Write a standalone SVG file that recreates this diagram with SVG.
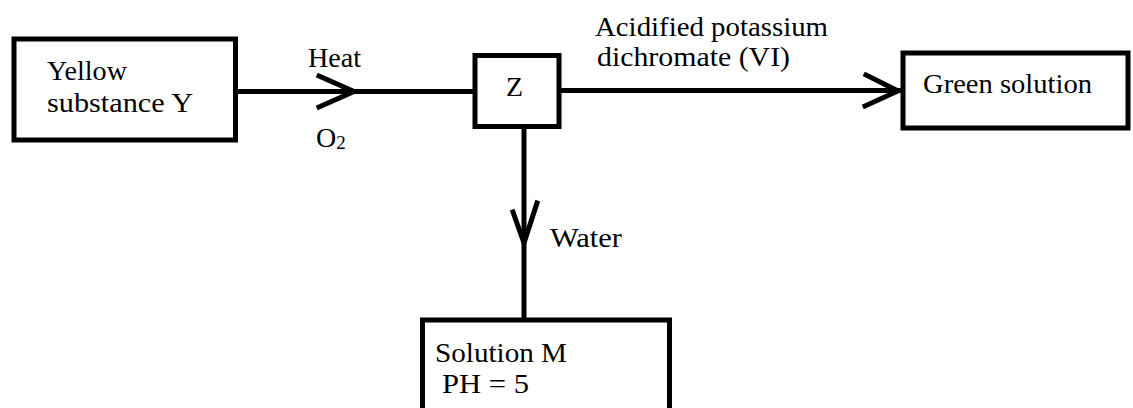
<svg xmlns="http://www.w3.org/2000/svg" width="1133" height="408" viewBox="0 0 1133 408">
<style>
.box{fill:#fff;stroke:#000;stroke-width:5}
.ln{fill:none;stroke:#000;stroke-width:5}
.hd{fill:none;stroke:#000;stroke-width:5;stroke-linecap:square;stroke-linejoin:miter}
</style>
<defs/>
<rect width="1133" height="408" fill="#fff"/>
<g id="connectors">
<line class="ln" x1="237" y1="91.5" x2="474" y2="91.5"/>
<polyline class="hd" points="319,76 354,91.5 319,107"/>
<line class="ln" x1="561" y1="90.5" x2="902" y2="90.5"/>
<polyline class="hd" points="866,75 898,91 865,106"/>
<line class="ln" x1="524" y1="128" x2="524" y2="319"/>
<polyline class="hd" points="513,212 524,243 537,203"/>
</g>
<g id="labels" font-family="Liberation Serif" font-size="28" fill="#000">
<text x="308" y="67" textLength="53" lengthAdjust="spacingAndGlyphs">Heat</text>
<text x="316" y="147">O<tspan font-size="19" dy="2">2</tspan></text>
<text x="595" y="36" textLength="233" lengthAdjust="spacingAndGlyphs">Acidified potassium</text>
<text x="597" y="66" textLength="193" lengthAdjust="spacingAndGlyphs">dichromate (VI)</text>
<text x="550" y="247" textLength="72" lengthAdjust="spacingAndGlyphs">Water</text>
</g>
<g id="node-y" font-family="Liberation Serif" font-size="28">
<rect class="box" x="14" y="39" width="221.5" height="101"/>
<text x="47" y="80" textLength="80" lengthAdjust="spacingAndGlyphs">Yellow</text>
<text x="47" y="112" textLength="146" lengthAdjust="spacingAndGlyphs">substance Y</text>
</g>
<g id="node-z" font-family="Liberation Serif" font-size="28">
<rect class="box" x="475" y="55.5" width="84" height="71"/>
<text x="506" y="96" textLength="17" lengthAdjust="spacingAndGlyphs">Z</text>
</g>
<g id="node-green" font-family="Liberation Serif" font-size="28">
<rect class="box" x="903" y="53" width="225" height="75"/>
<text x="923" y="93" textLength="169" lengthAdjust="spacingAndGlyphs">Green solution</text>
</g>
<g id="node-m" font-family="Liberation Serif" font-size="28">
<rect class="box" x="422.5" y="320" width="247" height="100"/>
<text x="435" y="362" textLength="132" lengthAdjust="spacingAndGlyphs">Solution M</text>
<text x="442" y="393" textLength="87" lengthAdjust="spacingAndGlyphs">PH = 5</text>
</g>
</svg>
